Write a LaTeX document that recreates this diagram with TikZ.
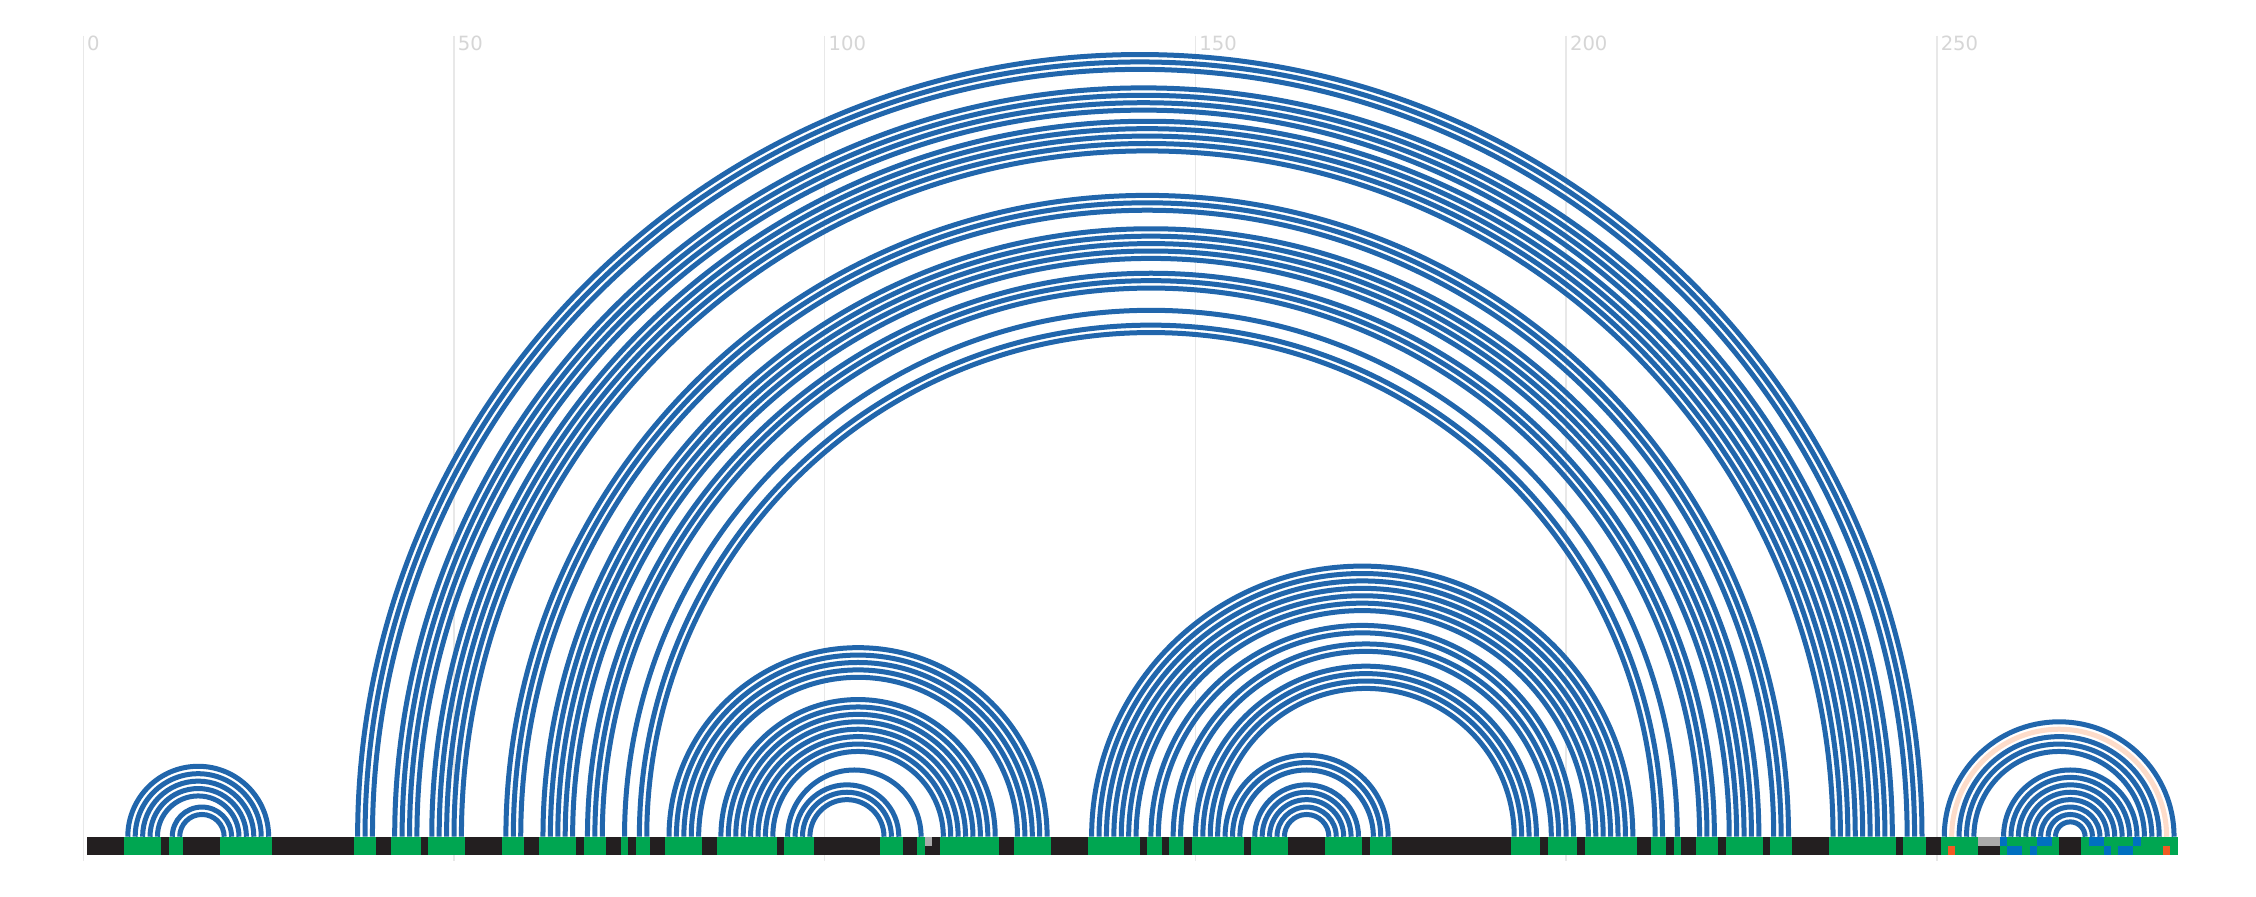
\documentclass[tikz,border=0pt]{standalone}
\usepackage{fontspec}
\setmainfont{DejaVu Sans}
\usetikzlibrary{positioning}
\definecolor{arcblue}{HTML}{2166AC}
\definecolor{pairgreen}{HTML}{00A651}
\definecolor{unpaired}{HTML}{231F20}
\definecolor{gapgray}{HTML}{AAAAAA}
\definecolor{diffblue}{HTML}{0070C0}
\definecolor{misorange}{HTML}{F15A24}
\definecolor{peach}{HTML}{FDDCCA}
\definecolor{gridgray}{HTML}{E8E8E8}
\definecolor{labelgray}{HTML}{D6D6D6}
\begin{document}
\begin{tikzpicture}
[x=1.8535pt,y=1.8535pt,
 pair/.style={draw=arcblue,line width=1.25pt},
 pairpeach/.style={draw=peach,line width=1.25pt},
 gridline/.style={draw=gridgray,line width=0.35pt},
 ticklabel/.style={anchor=north west,inner sep=0pt,text=labelgray,font=\fontsize{4.9}{5.5}\selectfont}]
\useasboundingbox (-11.236,-8.0) rectangle (293.05,112.855);
\fill[white] (-11.236,-8.0) rectangle (293.05,112.855);

% axis grid
\foreach \t in {0,50,...,250} {
  \coordinate (g\t) at (\t,108.0);
  \coordinate (h\t) at (\t,-3.28);
  \draw[gridline] (g\t) -- (h\t);
  \node[ticklabel] (l\t) at (\t+0.42,108.1) {\t};
}

% one coordinate per nucleotide
\foreach \i in {1,...,282} {
  \coordinate (n\i) at (\i,0);
}

% helices: first 5' base / first 3' base / length
\foreach \i/\j/\len in {6/25/5, 12/20/2, 37/248/3, 42/244/4, 47/240/5,
    57/230/3, 62/226/5, 68/220/3, 73/215/1, 75/213/2,
    79/130/5, 86/123/8, 95/113/1, 96/110/3,
    136/209/7, 144/201/2, 147/199/2, 150/196/4, 154/176/3, 158/172/5,
    251/282/1, 253/280/3, 259/277/8} {
  \foreach \k in {1,...,\len} {
    \pgfmathtruncatemacro{\a}{\i+\k-1}
    \pgfmathsetmacro{\r}{(\j-\i-2*(\k-1))/2}
    \draw[pair] (n\a) arc[start angle=180,end angle=0,radius=\r];
  }
}
\draw[pairpeach] (n252) arc[start angle=180,end angle=0,radius=14.5];

% sequence bar
\fill[unpaired] (0.5,0) rectangle (282.5,-2.45);
\foreach \s/\e in {6/10, 12/13, 19/25, 37/39, 42/45, 47/51, 57/59, 62/66,
    68/70, 73/73, 75/76, 79/83, 86/93, 95/98, 108/110, 113/113, 116/123,
    126/130, 136/142, 144/145, 147/148, 150/156, 158/162, 168/172, 174/176,
    193/196, 198/201, 203/209, 212/213, 215/215, 218/220, 222/226, 228/230,
    236/244, 246/248, 251/255, 259/266, 270/282} {
  \fill[pairgreen] (\s-0.5,0) rectangle (\e+0.5,-2.45);
}
% upper track
\foreach \s/\e/\c in {114/114/gapgray, 256/258/gapgray, 259/259/diffblue,
    264/265/diffblue, 271/272/diffblue, 277/277/diffblue} {
  \fill[\c] (\s-0.5,0) rectangle (\e+0.5,-1.225);
}
% lower track
\foreach \s/\e/\c in {252/252/misorange, 260/261/diffblue, 263/263/diffblue,
    273/273/diffblue, 275/276/diffblue, 281/281/misorange} {
  \fill[\c] (\s-0.5,-1.225) rectangle (\e+0.5,-2.45);
}
\end{tikzpicture}
\end{document}
